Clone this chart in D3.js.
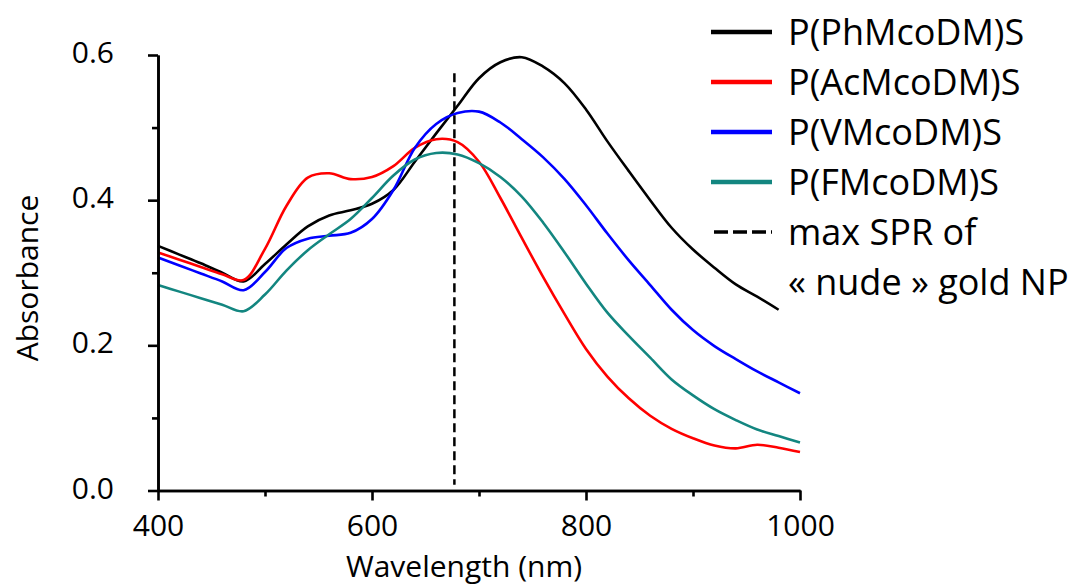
<!DOCTYPE html>
<html>
<head>
<meta charset="utf-8">
<script src="https://cdn.jsdelivr.net/npm/d3@7"></script>
<style>
  html, body { margin: 0; padding: 0; background: #fff; }
  svg { display: block; }
  text { font-family: "Open Sans", "Noto Sans", sans-serif; fill: #000; }
</style>
</head>
<body>
<svg id="chart" width="1072" height="585"></svg>
<script>
// ---------------- data ----------------
const wavelengths = [400,420,440,460,480,500,520,540,560,580,600,620,640,660,680,700,720,740,760,780,800,820,840,860,880,900,920,940,960,980,1000];
const phmcodm = [0.337,0.325,0.313,0.300,0.288,0.312,0.339,0.364,0.379,0.386,0.395,0.414,0.453,0.492,0.530,0.568,0.590,0.597,0.584,0.561,0.525,0.481,0.440,0.400,0.362,0.332,0.307,0.284,0.267,0.249,null];
const acmcodm = [0.328,0.318,0.308,0.298,0.290,0.333,0.392,0.431,0.437,0.429,0.432,0.447,0.472,0.484,0.480,0.453,0.403,0.348,0.294,0.243,0.195,0.157,0.127,0.103,0.085,0.072,0.062,0.058,0.063,0.059,0.053];
const vmcodm = [0.321,0.310,0.299,0.288,0.276,0.301,0.334,0.347,0.351,0.355,0.374,0.414,0.472,0.505,0.520,0.522,0.507,0.484,0.459,0.429,0.393,0.354,0.317,0.283,0.249,0.221,0.199,0.181,0.164,0.149,0.134];
const fmcodm = [0.283,0.274,0.265,0.256,0.247,0.270,0.303,0.331,0.353,0.374,0.403,0.434,0.456,0.465,0.463,0.451,0.432,0.405,0.369,0.328,0.285,0.245,0.213,0.183,0.153,0.131,0.112,0.097,0.084,0.075,0.066];
const seriesNames = ["P(PhMcoDM)S","P(AcMcoDM)S","P(VMcoDM)S","P(FMcoDM)S"];
const seriesColors = ["#000000","#ff0000","#0000ff","#138680"];
const seriesValues = [phmcodm, acmcodm, vmcodm, fmcodm];
const sprWavelength = 677;          // max SPR of "nude" gold NP
const sprExtent = [0.008, 0.575];   // vertical extent of dashed marker (absorbance)
const xTicks = [400,600,800,1000];
const xMinorTicks = [500,700,900];
const yTicks = [0.0,0.2,0.4,0.6];
const yMinorTicks = [0.1,0.3,0.5];
const legendLabels = ["P(PhMcoDM)S","P(AcMcoDM)S","P(VMcoDM)S","P(FMcoDM)S","max SPR of"];
const legendExtra = "« nude » gold NP";
const xTitle = "Wavelength (nm)";
const yTitle = "Absorbance";

// ---------------- chart ----------------
const svg = d3.select("#chart");
svg.append("rect").attr("width",1072).attr("height",585).attr("fill","#fff");

const x = d3.scaleLinear().domain([400,1000]).range([158,800]);
const y = d3.scaleLinear().domain([0,0.6]).range([490.5,55]);

// curves
const line = d3.line()
  .defined(d => d.v != null)
  .x(d => x(d.w)).y(d => y(d.v))
  .curve(d3.curveCatmullRom.alpha(0.5));

seriesValues.forEach((vals, i) => {
  const pts = wavelengths.map((w, j) => ({w, v: vals[j]}));
  svg.append("path")
    .datum(pts)
    .attr("fill","none")
    .attr("stroke", seriesColors[i])
    .attr("stroke-width", 2.6)
    .attr("stroke-linejoin","round")
    .attr("d", line);
});

// dashed SPR marker
svg.append("line")
  .attr("x1", x(sprWavelength)).attr("x2", x(sprWavelength))
  .attr("y1", y(sprExtent[1])).attr("y2", y(sprExtent[0]))
  .attr("stroke","#000").attr("stroke-width",2.5)
  .attr("stroke-dasharray","9,5");

// axes
function styleAxis(g){
  g.selectAll(".domain").attr("stroke","#000").attr("stroke-width",2.6);
  g.selectAll(".tick line").attr("stroke","#000").attr("stroke-width",2.6);
}
const xMinor = svg.append("g").attr("transform",`translate(0,${y(0)})`)
  .call(d3.axisBottom(x).tickValues(xMinorTicks).tickSize(6).tickSizeOuter(0).tickFormat(""));
styleAxis(xMinor);
const xMajor = svg.append("g").attr("transform",`translate(0,${y(0)})`)
  .call(d3.axisBottom(x).tickValues(xTicks).tickSize(10).tickSizeOuter(0).tickPadding(14).tickFormat(d3.format("d")));
styleAxis(xMajor);
xMajor.selectAll("text").attr("font-size",30).attr("font-family","Open Sans").attr("dy","0.71em");

const yMinor = svg.append("g").attr("transform",`translate(${x(400)},0)`)
  .call(d3.axisLeft(y).tickValues(yMinorTicks).tickSize(6).tickSizeOuter(0).tickFormat(""));
styleAxis(yMinor);
const yMajor = svg.append("g").attr("transform",`translate(${x(400)},0)`)
  .call(d3.axisLeft(y).tickValues(yTicks).tickSize(10).tickSizeOuter(0).tickPadding(34).tickFormat(d3.format(".1f")));
styleAxis(yMajor);
yMajor.selectAll("text").attr("font-size",30).attr("font-family","Open Sans").attr("dy","0.25em");

// axis titles
svg.append("text").attr("x", 464).attr("y", 577)
  .attr("text-anchor","middle").attr("font-size",30).text(xTitle);
svg.append("text").attr("transform","translate(38,278) rotate(-90)")
  .attr("text-anchor","middle").attr("font-size",30).text(yTitle);

// legend
const legendY = d3.scalePoint().domain(d3.range(6)).range([32, 282]);
const lg = svg.append("g");
legendLabels.forEach((lab, i) => {
  const yy = legendY(i);
  const ln = lg.append("line").attr("x1",711).attr("x2",772).attr("y1",yy).attr("y2",yy)
    .attr("stroke-width",4.5);
  if (i < 4) ln.attr("stroke", seriesColors[i]);
  else ln.attr("stroke","#000").attr("stroke-width",3.5).attr("stroke-dasharray","14,5").attr("stroke-dashoffset",16);
  lg.append("text").attr("x",788).attr("y",yy).attr("dy","0.36em")
    .attr("font-size",36).text(lab);
});
lg.append("text").attr("x",788).attr("y",legendY(5)).attr("dy","0.36em")
  .attr("font-size",36).text(legendExtra);
</script>
</body>
</html>
